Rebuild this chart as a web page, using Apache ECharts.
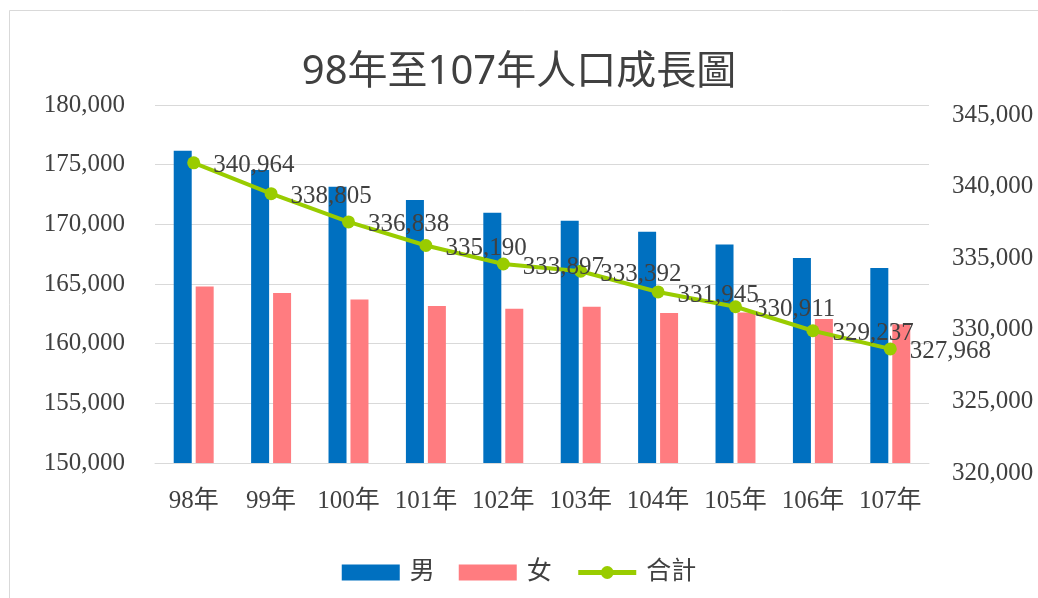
<!DOCTYPE html>
<html>
<head>
<meta charset="utf-8">
<script src="https://cdn.jsdelivr.net/npm/echarts@6/dist/echarts.min.js"></script>
<style>
html,body{margin:0;padding:0;background:#fff;}
#chart{width:1038px;height:598px;}
</style>
</head>
<body>
<div id="chart"></div>
<script>
var categories = ['98年','99年','100年','101年','102年','103年','104年','105年','106年','107年'];
var male   = [176160, 174560, 173140, 172040, 170970, 170290, 169370, 168300, 167180, 166340];
var female = [164800, 164245, 163700, 163150, 162930, 163100, 162575, 162610, 162060, 161630];
var total  = [340964, 338805, 336838, 335190, 333897, 333392, 331945, 330911, 329237, 327968];
var seriesNames = ['男','女','合計'];
var titleText = '98年至107年人口成長圖';

var serif = "'Liberation Serif', 'Noto Sans CJK TC', serif";
var fmt = function(v){ return v.toLocaleString('en-US'); };

var chart = echarts.init(document.getElementById('chart'));
chart.setOption({
  animation: false,
  backgroundColor: '#fff',
  graphic: [{
    type: 'rect',
    shape: {x: 9.5, y: 10.5, width: 1040, height: 600},
    style: {fill: 'none', stroke: '#d9d9d9', lineWidth: 1}
  }],
  title: {
    text: titleText,
    left: 'center',
    top: 48,
    textStyle: {fontFamily: "'Noto Sans', 'Noto Sans CJK TC', sans-serif", fontSize: 40, fontWeight: 'normal', color: '#404040'}
  },
  legend: {
    data: [
      {name: seriesNames[0], icon: 'rect'},
      {name: seriesNames[1], icon: 'rect'},
      {name: seriesNames[2], lineStyle: {width: 5}, itemStyle: {borderWidth: 0}}
    ],
    top: 555,
    left: 'center',
    itemWidth: 58,
    itemHeight: 16,
    itemGap: 24,
    textStyle: {fontFamily: serif, fontSize: 25, color: '#404040', padding: [0,0,0,5]}
  },
  grid: {left: 155, right: 109, top: 105, bottom: 135},
  xAxis: {
    type: 'category',
    data: categories,
    axisLine: {lineStyle: {color: '#d9d9d9', width: 1}},
    axisTick: {show: false},
    axisLabel: {fontFamily: serif, fontSize: 25, color: '#404040', margin: 26, interval: 0}
  },
  yAxis: [{
    type: 'value',
    min: 150000, max: 180000, interval: 5000,
    axisLine: {show: false}, axisTick: {show: false},
    splitLine: {lineStyle: {color: '#d9d9d9', width: 1}},
    axisLabel: {fontFamily: serif, fontSize: 25, color: '#404040', margin: 30, formatter: fmt}
  }, {
    type: 'value',
    min: 320000, max: 345000, interval: 5000,
    position: 'right',
    axisLine: {show: false}, axisTick: {show: false},
    splitLine: {show: false},
    axisLabel: {fontFamily: serif, fontSize: 25, color: '#404040', margin: 23, formatter: fmt, verticalAlign: 'top', lineHeight: 20}
  }],
  series: [{
    name: seriesNames[0], type: 'bar', data: male, yAxisIndex: 0,
    barWidth: 18, barGap: '22%',
    itemStyle: {color: '#0070C0'}
  }, {
    name: seriesNames[1], type: 'bar', data: female, yAxisIndex: 0,
    barWidth: 18, barGap: '22%',
    itemStyle: {color: '#FF7C80'}
  }, {
    name: seriesNames[2], type: 'line', data: total, yAxisIndex: 1,
    symbol: 'circle', symbolSize: 13,
    lineStyle: {color: '#99CC00', width: 4},
    itemStyle: {color: '#99CC00'},
    label: {show: true, position: 'right', distance: 13, offset: [0, 3], fontFamily: serif, fontSize: 25, color: '#404040', formatter: function(p){ return fmt(p.value); }},
    z: 5
  }]
});
</script>
</body>
</html>
